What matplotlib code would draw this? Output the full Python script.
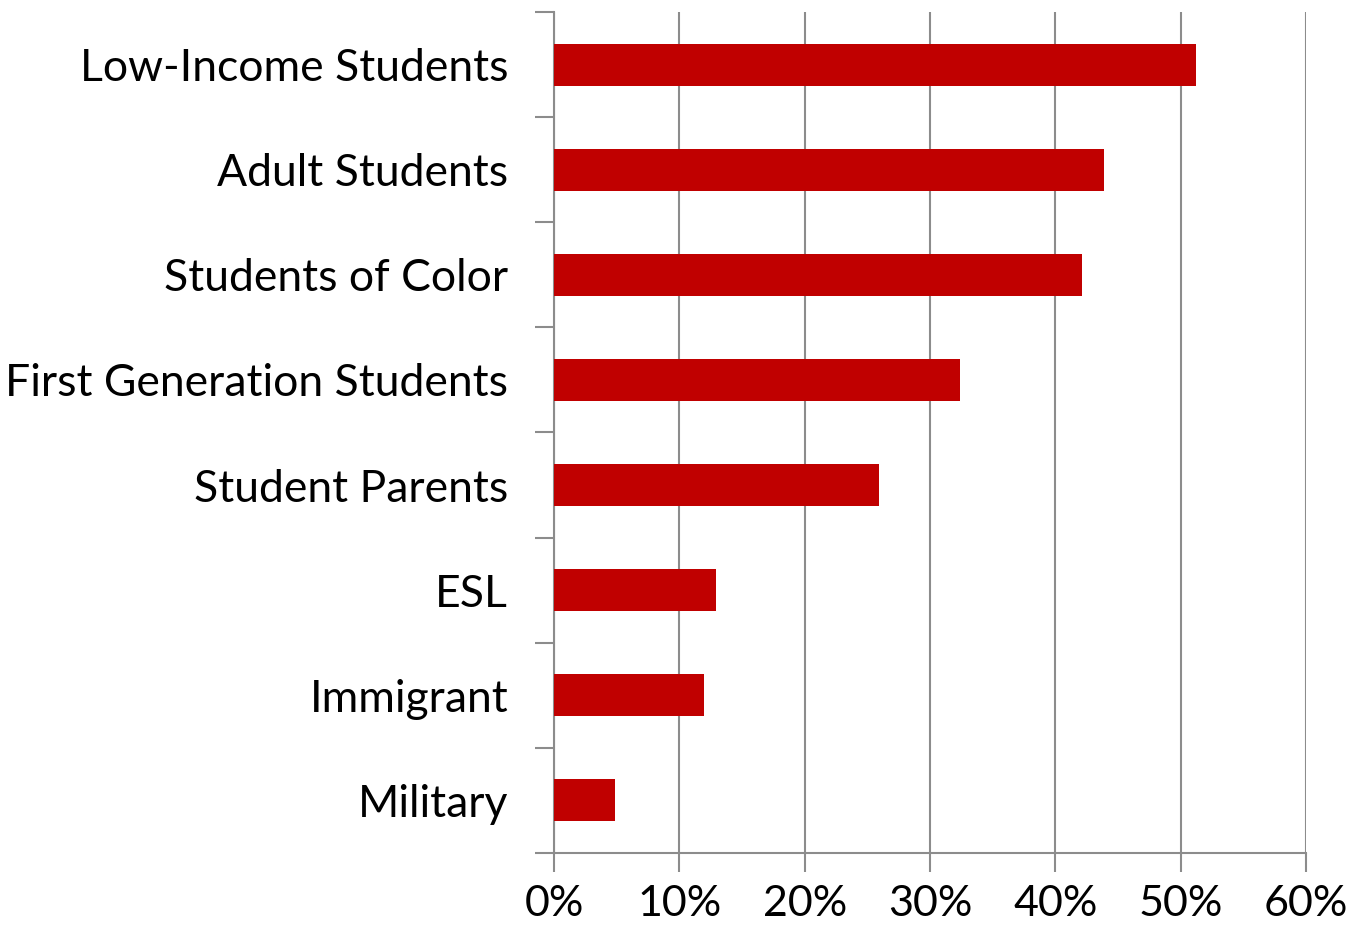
import matplotlib.pyplot as plt
from matplotlib.ticker import PercentFormatter

categories = ["Low-Income Students", "Adult Students", "Students of Color",
              "First Generation Students", "Student Parents", "ESL",
              "Immigrant", "Military"]
values = [51.2, 43.9, 42.1, 32.4, 25.9, 12.9, 12.0, 4.9]
xticks = [0, 10, 20, 30, 40, 50, 60]

plt.rcParams['font.family'] = ['Lato', 'DejaVu Sans']

fig = plt.figure(figsize=(13.5, 9.31), dpi=100)
ax = fig.add_axes([0.4104, 0.0838, 0.5570, 0.9033])

grey = "#8c8c8c"
pos = list(range(len(categories)))
ax.barh(pos, values, height=0.4, color="#C00000", zorder=3)
ax.set_ylim(len(categories) - 0.5, -0.5)
ax.set_xlim(0, 60)
ax.set_xticks(xticks)
ax.xaxis.set_major_formatter(PercentFormatter(decimals=0))
ax.set_yticks([p - 0.5 for p in pos] + [len(categories) - 0.5])
ax.set_yticklabels([])
ax.set_yticks(pos, minor=True)
ax.set_yticklabels(categories, minor=True)
ax.tick_params(axis='y', which='minor', length=0, pad=33, labelsize=32)
ax.tick_params(axis='y', which='major', length=14, width=1.5, color=grey)
ax.tick_params(axis='x', length=14, width=1.5, color=grey, pad=9, labelsize=31)
ax.grid(axis='x', color=grey, linewidth=1.5, zorder=0)
for s in ['top', 'right']:
    ax.spines[s].set_visible(False)
for s in ['left', 'bottom']:
    ax.spines[s].set_color(grey)
    ax.spines[s].set_linewidth(1.5)

fig.savefig("out.png", dpi=100)
